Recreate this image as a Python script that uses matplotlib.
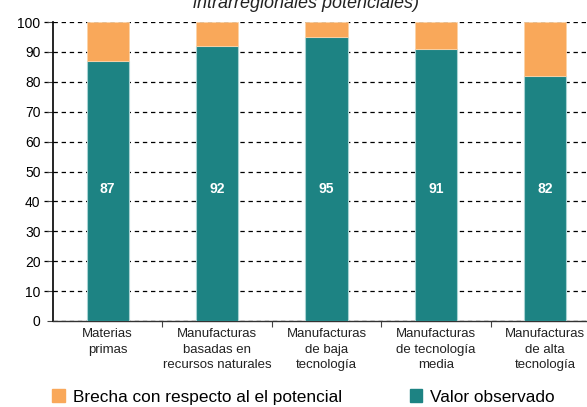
import numpy as np
import matplotlib
matplotlib.use("Agg")
import matplotlib.pyplot as plt
from matplotlib.patches import Patch

plt.rcParams["font.family"] = ["Liberation Sans", "DejaVu Sans"]

categories = [
    "Materias\nprimas",
    "Manufacturas\nbasadas en\nrecursos naturales",
    "Manufacturas\nde baja\ntecnología",
    "Manufacturas\nde tecnología\nmedia",
    "Manufacturas\nde alta\ntecnología",
]
observed = [87, 92, 95, 91, 82]
potential = [100, 100, 100, 100, 100]
gap = [p - o for p, o in zip(potential, observed)]

TEAL = "#1d8383"
ORANGE = "#f9a85a"

fig = plt.figure(figsize=(5.87, 4.07), dpi=100)
# axis runs past the right edge of the figure, the last category is cut off
ax = fig.add_axes([53 / 587, 1 - 321 / 407, 547 / 587, 299 / 407])

x = np.arange(len(categories))
w = 0.385
ax.bar(x, observed, w, color=TEAL, edgecolor="#a9d3d3", linewidth=0.8, zorder=3)
ax.bar(x, gap, w, bottom=observed, color=ORANGE, edgecolor="#fbd3a8", linewidth=0.6, zorder=3)

for xi, v in zip(x, observed):
    ax.text(xi, 44, f"{v}", ha="center", va="center", color="white",
            fontsize=10, fontweight="bold", zorder=4)

ax.set_xlim(-0.5, len(categories) - 0.5)
ax.set_ylim(0, 100)
ax.set_yticks(np.arange(0, 101, 10))
ax.tick_params(axis="y", labelsize=10, length=4, width=0.8, pad=5, color="#444444")
ax.yaxis.grid(True, color="black", linestyle=(0, (3.5, 3)), linewidth=0.9, zorder=1)
for yv in np.arange(10, 101, 10):
    # dashes continue left across the tick area
    ax.plot([-0.585, -0.5], [yv, yv], color="black", linestyle=(0, (3.5, 3)),
            linewidth=0.9, clip_on=False, zorder=1)

ax.set_xticks(x + 0.5)
ax.set_xticklabels([])
ax.tick_params(axis="x", length=4, width=0.8, color="#444444")
for xi, lab in zip(x, categories):
    ax.text(xi, -2.3, lab, ha="center", va="top", fontsize=9.5, color="#222222",
            linespacing=1.42)

for side in ["top", "right"]:
    ax.spines[side].set_visible(False)
ax.spines["left"].set_linewidth(1.2)
ax.spines["left"].set_color("black")
ax.spines["bottom"].set_linewidth(1.0)
ax.spines["bottom"].set_color("#333333")

# tail of the caption line above the chart
fig.text(306 / 587, 1 - 8 / 407, "intrarregionales potenciales)", ha="center", va="baseline",
         fontsize=13, style="italic", color="#222222")

fig.legend(handles=[Patch(color=ORANGE, label="Brecha con respecto al el potencial")],
           loc="center left", bbox_to_anchor=(37 / 587, 1 - 397 / 407), frameon=False,
           fontsize=12.4, handlelength=0.75, handleheight=0.75, handletextpad=0.45)
fig.legend(handles=[Patch(color=TEAL, label="Valor observado")],
           loc="center left", bbox_to_anchor=(394 / 587, 1 - 397 / 407), frameon=False,
           fontsize=12.4, handlelength=0.75, handleheight=0.75, handletextpad=0.45)

fig.savefig("out.png", dpi=100)
